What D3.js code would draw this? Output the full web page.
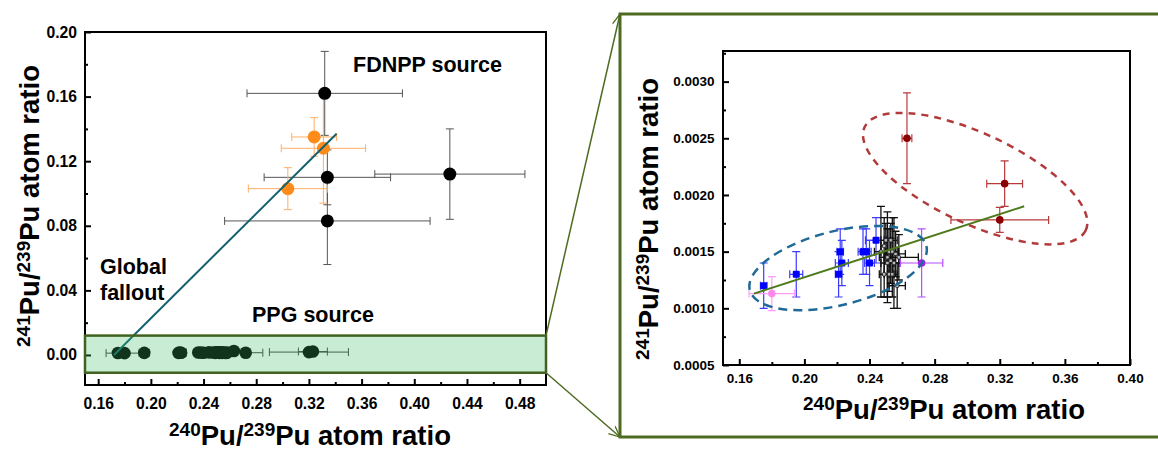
<!DOCTYPE html>
<html>
<head>
<meta charset="utf-8">
<script src="https://cdn.jsdelivr.net/npm/d3@7"></script>
<style>
  body { margin: 0; background: #fff; }
  svg { display: block; font-family: Arial, "Liberation Sans", sans-serif; font-weight: bold; }
</style>
</head>
<body>
<svg id="chart" width="1158" height="451"></svg>
<script>
// ---- left panel data (FDNPP source + literature, orange) ----
var fdnppX    = [0.332, 0.334, 0.334, 0.427];
var fdnppY    = [0.162, 0.110, 0.083, 0.112];
var fdnppXErr = [0.059, 0.048, 0.078, 0.057];
var fdnppYErr = [0.026, 0.017, 0.027, 0.028];

var orangeX    = [0.304, 0.324, 0.331];
var orangeY    = [0.103, 0.135, 0.128];
var orangeXErr = [0.030, 0.017, 0.032];
var orangeYErr = [0.013, 0.012, 0.034];

// ---- right panel data (zoom on the PPG band) ----
var blueX    = [0.175, 0.195, 0.221, 0.222, 0.223, 0.236, 0.238, 0.240, 0.244];
var blueY    = [0.0012, 0.0013, 0.0013, 0.0015, 0.0014, 0.0015, 0.0015, 0.0014, 0.0016];
var blueXErr = [0.002, 0.004, 0.002, 0.002, 0.004, 0.003, 0.003, 0.003, 0.0065];
var blueYErr = [0.0002, 0.0002, 0.0002, 0.0002, 0.0002, 0.0002, 0.0002, 0.0002, 0.0002];

var clusterX    = [0.247, 0.249, 0.249, 0.250, 0.251, 0.251, 0.252, 0.252, 0.253, 0.253, 0.254, 0.254, 0.255, 0.256, 0.257, 0.258];
var clusterY    = [0.00150, 0.00130, 0.00155, 0.00160, 0.00140, 0.00145, 0.00150, 0.00130, 0.00160, 0.00142, 0.00150, 0.00130, 0.00140, 0.00148, 0.00120, 0.00145];
var clusterXErr = [0.004, 0.003, 0.002, 0.003, 0.004, 0.002, 0.005, 0.003, 0.004, 0.003, 0.004, 0.003, 0.003, 0.006, 0.005, 0.012];
var clusterYErr = [0.0004, 0.0002, 0.00025, 0.00015, 0.0003, 0.0004, 0.0002, 0.00015, 0.00015, 0.0002, 0.0003, 0.0002, 0.0004, 0.0002, 0.0002, 0.0002];

var pinkX = [0.180], pinkY = [0.00113], pinkXErr = [0.014], pinkYErr = [0.00015];
var purpleX = [0.272], purpleY = [0.0014], purpleXErr = [0.013], purpleYErr = [0.0003];

var redX    = [0.263, 0.323, 0.320];
var redY    = [0.0025, 0.0021, 0.00178];
var redXErr = [0.003, 0.011, 0.030];
var redYErr = [0.0004, 0.0002, 0.00011];

// fit lines, band and ellipses (data units)
var globalLine = [[0.172, 0.0], [0.341, 0.137]];
var zoomLine   = [[0.169, 0.00113], [0.335, 0.0019]];
var ppgBand    = [-0.011, 0.012];
var blueEllipse = {cx: 0.2207, cy: 0.001355};
var redEllipse  = {cx: 0.3049, cy: 0.002144};

// ticks
var leftXTicks  = [0.16, 0.20, 0.24, 0.28, 0.32, 0.36, 0.40, 0.44, 0.48];
var leftXMinor  = [0.18, 0.22, 0.26, 0.30, 0.34, 0.38, 0.42, 0.46];
var leftYTicks  = [0.00, 0.04, 0.08, 0.12, 0.16, 0.20];
var leftYMinor  = [0.02, 0.06, 0.10, 0.14, 0.18];
var rightXTicks = [0.16, 0.20, 0.24, 0.28, 0.32, 0.36, 0.40];
var rightXMinor = [0.18, 0.22, 0.26, 0.30, 0.34, 0.38];
var rightYTicks = [0.0005, 0.0010, 0.0015, 0.0020, 0.0025, 0.0030];
var rightYMinor = [0.00075, 0.00125, 0.00175, 0.00225, 0.00275, 0.00325];

function zip(xs, ys, xe, ye) {
  return xs.map(function(v, i) { return {x: v, y: ys[i], xe: xe[i], ye: ye[i]}; });
}

var svg = d3.select("#chart");

var xL = d3.scaleLinear().domain([0.15, 0.50]).range([85, 546]);
var yL = d3.scaleLinear().domain([-0.0186, 0.20]).range([385, 32]);
var xR = d3.scaleLinear().domain([0.15, 0.40]).range([723, 1130]);
var yR = d3.scaleLinear().domain([0.0005, 0.00327]).range([365, 51]);

function errorBars(g, pts, x, y, color, cap, w) {
  g.selectAll(null).data(pts).enter().append("path")
    .attr("fill", "none")
    .attr("stroke", color)
    .attr("stroke-width", w)
    .attr("d", function(d) {
      var cx = x(d.x), cy = y(d.y), s = "";
      if (d.xe) {
        var x0 = x(d.x - d.xe), x1 = x(d.x + d.xe);
        s += "M" + x0 + "," + cy + "H" + x1;
        s += "M" + x0 + "," + (cy - cap) + "V" + (cy + cap);
        s += "M" + x1 + "," + (cy - cap) + "V" + (cy + cap);
      }
      if (d.ye) {
        var y0 = y(d.y - d.ye), y1 = y(d.y + d.ye);
        s += "M" + cx + "," + y0 + "V" + y1;
        s += "M" + (cx - cap) + "," + y0 + "H" + (cx + cap);
        s += "M" + (cx - cap) + "," + y1 + "H" + (cx + cap);
      }
      return s;
    });
}

function dots(g, pts, x, y, r, fill) {
  g.selectAll(null).data(pts).enter().append("circle")
    .attr("cx", function(d) { return x(d.x); })
    .attr("cy", function(d) { return y(d.y); })
    .attr("r", r)
    .attr("fill", fill);
}

function squares(g, pts, x, y, s, fill, stroke) {
  g.selectAll(null).data(pts).enter().append("rect")
    .attr("x", function(d) { return x(d.x) - s / 2; })
    .attr("y", function(d) { return y(d.y) - s / 2; })
    .attr("width", s).attr("height", s).attr("rx", 1)
    .attr("fill", fill)
    .attr("stroke", stroke || "none");
}

// "2xxPu/239Pu atom ratio" with superscripts
function puTitle(g, tx, ty, rot, a, size, sup) {
  var t = g.append("text")
    .attr("transform", "translate(" + tx + "," + ty + ")" + (rot ? " rotate(-90)" : ""))
    .attr("text-anchor", "middle")
    .attr("font-size", size);
  var up = 9;
  t.append("tspan").attr("font-size", sup).attr("dy", -up).text(a);
  t.append("tspan").attr("dy", up).text("Pu/");
  t.append("tspan").attr("font-size", sup).attr("dy", -up).text("239");
  t.append("tspan").attr("dy", up).text("Pu atom ratio");
}

function axes(g, x, y, xt, xm, yt, ym, fmtX, fmtY, fs, padX, padY) {
  var h = y.range()[0], l = x.range()[0];
  function style(a) {
    a.select(".domain").remove();
    a.selectAll("line").attr("stroke-width", 2);
    a.selectAll("text").attr("font-size", fs).attr("font-family", null).attr("font-weight", "bold");
  }
  g.append("g").attr("transform", "translate(0," + h + ")")
    .call(d3.axisBottom(x).tickValues(xm).tickSize(-3).tickFormat(""))
    .call(style);
  g.append("g").attr("transform", "translate(0," + h + ")")
    .call(d3.axisBottom(x).tickValues(xt).tickSize(-6).tickPadding(padX).tickFormat(fmtX))
    .call(style);
  g.append("g").attr("transform", "translate(" + l + ",0)")
    .call(d3.axisLeft(y).tickValues(ym).tickSize(-3).tickFormat(""))
    .call(style);
  g.append("g").attr("transform", "translate(" + l + ",0)")
    .call(d3.axisLeft(y).tickValues(yt).tickSize(-6).tickPadding(padY).tickFormat(fmtY))
    .call(style);
  g.append("rect")
    .attr("x", x.range()[0]).attr("y", y.range()[1])
    .attr("width", x.range()[1] - x.range()[0])
    .attr("height", y.range()[0] - y.range()[1])
    .attr("fill", "none").attr("stroke", "#000").attr("stroke-width", 2);
}

// ================= left panel =================
var left = svg.append("g");

axes(left, xL, yL, leftXTicks, leftXMinor, leftYTicks, leftYMinor,
     d3.format(".2f"), d3.format(".2f"), 15.7, 13, 8);

var fdnpp = zip(fdnppX, fdnppY, fdnppXErr, fdnppYErr);
var orange = zip(orangeX, orangeY, orangeXErr, orangeYErr);
var blue = zip(blueX, blueY, blueXErr, blueYErr);
var cluster = zip(clusterX, clusterY, clusterXErr, clusterYErr);
var pink = zip(pinkX, pinkY, pinkXErr, pinkYErr);
var purple = zip(purpleX, purpleY, purpleXErr, purpleYErr);
var red = zip(redX, redY, redXErr, redYErr);
var ppgAll = blue.concat(cluster, pink, purple, red);

errorBars(left, fdnpp, xL, yL, "#555", 4, 1);
errorBars(left, orange, xL, yL, "#ffae66", 4, 1);
errorBars(left, ppgAll, xL, yL, "#444", 4, 1);
dots(left, fdnpp, xL, yL, 6.5, "#000");
dots(left, orange, xL, yL, 6.5, "#ff8c1a");
dots(left, ppgAll, xL, yL, 6.3, "#000");

left.append("path")
  .datum(globalLine)
  .attr("fill", "none")
  .attr("stroke", "#14606e")
  .attr("stroke-width", 2)
  .attr("d", d3.line().x(function(d) { return xL(d[0]); }).y(function(d) { return yL(d[1]); }));

// translucent PPG band on top
left.append("rect")
  .attr("x", xL.range()[0]).attr("width", xL.range()[1] - xL.range()[0])
  .attr("y", yL(ppgBand[1])).attr("height", yL(ppgBand[0]) - yL(ppgBand[1]))
  .attr("fill", "rgb(60,190,100)").attr("fill-opacity", 0.28)
  .attr("stroke", "#41621f").attr("stroke-width", 2.5);

left.append("text").attr("x", 353).attr("y", 72).attr("font-size", 21.5).text("FDNPP source");
left.append("text").attr("x", 100).attr("y", 274).attr("font-size", 21.5).text("Global");
left.append("text").attr("x", 100).attr("y", 300).attr("font-size", 21.5).text("fallout");
left.append("text").attr("x", 252).attr("y", 322).attr("font-size", 21.5).text("PPG source");

puTitle(left, 39, 206, true, "241", 27.5, 19);
puTitle(left, 310, 445, false, "240", 27.5, 19);

// ================= zoom frame + connectors =================
var frame = {x: 620, y: 14, w: 600, h: 423};
svg.append("defs").append("marker")
  .attr("id", "arr").attr("viewBox", "0 0 12 12")
  .attr("refX", 11).attr("refY", 6)
  .attr("markerWidth", 12).attr("markerHeight", 12)
  .attr("markerUnits", "userSpaceOnUse")
  .attr("orient", "auto")
  .append("path").attr("d", "M0,1 L11,6 L0,11")
  .attr("fill", "none").attr("stroke", "#4f6b22").attr("stroke-width", 1.3);

svg.append("line")
  .attr("x1", xL.range()[1]).attr("y1", yL(ppgBand[1]))
  .attr("x2", frame.x).attr("y2", frame.y)
  .attr("stroke", "#4f6b22").attr("stroke-width", 1.5).attr("marker-end", "url(#arr)");
svg.append("line")
  .attr("x1", xL.range()[1]).attr("y1", yL(ppgBand[0]))
  .attr("x2", frame.x).attr("y2", frame.y + frame.h)
  .attr("stroke", "#4f6b22").attr("stroke-width", 1.5).attr("marker-end", "url(#arr)");

svg.append("rect")
  .attr("x", frame.x).attr("y", frame.y).attr("width", frame.w).attr("height", frame.h)
  .attr("fill", "#fff").attr("stroke", "#4f6b22").attr("stroke-width", 3);

// ================= right panel =================
var right = svg.append("g");

axes(right, xR, yR, rightXTicks, rightXMinor, rightYTicks, rightYMinor,
     d3.format(".2f"), d3.format(".4f"), 13.5, 8, 8.5);

errorBars(right, blue, xR, yR, "#3b3bff", 4, 1.2);
errorBars(right, cluster, xR, yR, "#111", 4, 1.3);
errorBars(right, pink, xR, yR, "#ff9cff", 4, 1.2);
errorBars(right, purple, xR, yR, "#b64cff", 4, 1.2);
errorBars(right, red, xR, yR, "#b83a3a", 4, 1.2);

squares(right, blue, xR, yR, 7, "#0000ff");
squares(right, cluster, xR, yR, 3.5, "#bbb", "#222");
dots(right, pink, xR, yR, 3.8, "#ff88ee");
dots(right, purple, xR, yR, 3.8, "#a020f0");
dots(right, red, xR, yR, 3.8, "#8b0000");

right.append("path")
  .datum(zoomLine)
  .attr("fill", "none")
  .attr("stroke", "#4d7a1a")
  .attr("stroke-width", 2)
  .attr("d", d3.line().x(function(d) { return xR(d[0]); }).y(function(d) { return yR(d[1]); }));

right.append("ellipse")
  .attr("transform", "translate(" + xR(blueEllipse.cx) + "," + yR(blueEllipse.cy) + ") rotate(-14)")
  .attr("rx", 91).attr("ry", 37)
  .attr("fill", "none").attr("stroke", "#1f6a96").attr("stroke-width", 2.5)
  .attr("stroke-dasharray", "9,6");
right.append("ellipse")
  .attr("transform", "translate(" + xR(redEllipse.cx) + "," + yR(redEllipse.cy) + ") rotate(25)")
  .attr("rx", 122).attr("ry", 45)
  .attr("fill", "none").attr("stroke", "#b33a3a").attr("stroke-width", 2.5)
  .attr("stroke-dasharray", "7,6");

puTitle(right, 658, 219, true, "241", 27.5, 19);
puTitle(right, 944, 419, false, "240", 27.5, 19);
</script>
</body>
</html>
